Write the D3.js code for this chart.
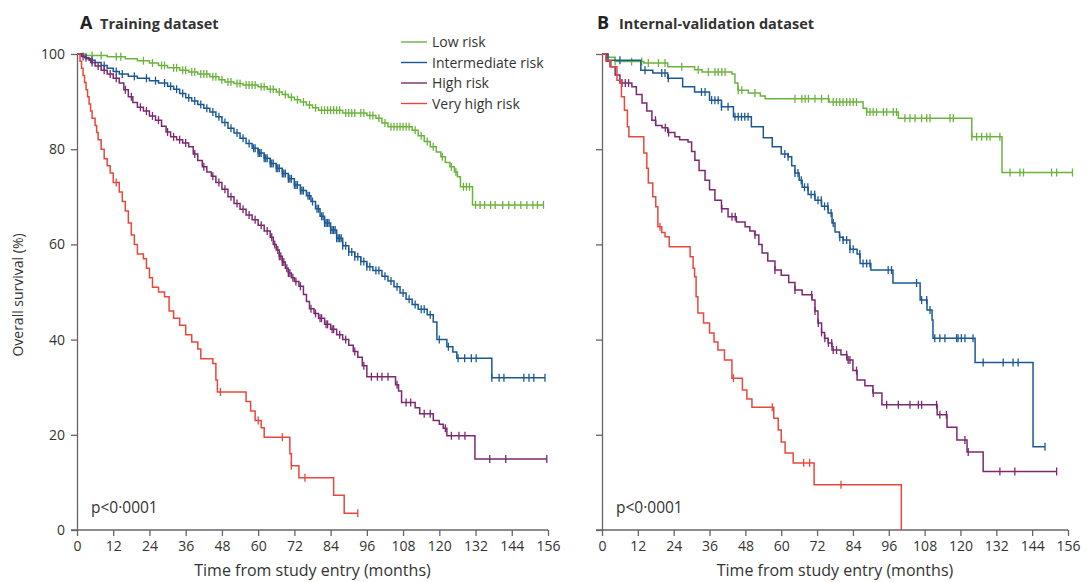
<!DOCTYPE html>
<html>
<head>
<meta charset="utf-8">
<script src="https://cdn.jsdelivr.net/npm/d3@7"></script>
<style>
  body { margin: 0; background: #fff; }
  svg text { font-family: "Open Sans", "Noto Sans", sans-serif; fill: #333; }
</style>
</head>
<body>
<svg id="chart" width="1089" height="582"></svg>
<script>

// Axis ticks
var xTicks = [0, 12, 24, 36, 48, 60, 72, 84, 96, 108, 120, 132, 144, 156];
var yTicks = [0, 20, 40, 60, 80, 100];

var groups = ["Low risk", "Intermediate risk", "High risk", "Very high risk"];

// Training dataset: [month, survival %] step points, last follow-up, censor times
var trainLow = [[0,100],[3,99.7],[10,99.4],[16,99],[20,98.6],[24,98.1],[27,97.6],[30,97.1],[34,96.6],[37,96.2],[40,95.8],[44,95.2],[47,94.6],[49,94.1],[52,93.8],[55,93.5],[60,93.1],[63,92.6],[66,92],[68,91.5],[70,90.9],[72,90.4],[74,89.9],[76,89.3],[78,88.7],[80,88.2],[88,87.6],[96,87.1],[99,86.5],[101,85.5],[103,84.7],[111,84],[113,82.8],[115,81.6],[117,80.5],[119,79.4],[120.5,78.4],[122,77.2],[123.5,76.3],[125,75.2],[126,74.2],[127,72.1],[131,68.3]];
var trainLowEnd = 154.5;
var trainLowCens = [5,8,13,14.5,22,25,28,29,32,33,35,36,38,39,41,42,43,45,46,48,50,51,53,54,56,57,58,59,61,62,64,65,67,69,71,73,75,77,79,81,82,83,84,85,86,87,89,90,91,92,94,95,97,98,100,102,104,105,106,107,108,109,110,112,114,116,118,121,124,125.5,128,129,130,132,133.5,135,137,138.5,141,143,145,147,149,151,152.5,154.5];

var trainInt = [[0,100],[1.5,99.6],[2.5,99.2],[4,98.7],[6,98.2],[8,97.6],[10,97],[12,96.3],[14,95.8],[17,95.3],[20,94.9],[24,94.4],[27,93.9],[30,93.2],[32,92.6],[34,91.7],[36,90.8],[38,90.1],[40,89.4],[42,88.6],[44,87.8],[46,86.8],[48,85.6],[50,84.4],[52,83.4],[54,82.3],[56,81.2],[58,80.2],[60,79.2],[62,78.1],[64,77],[66,76],[68,74.9],[70,73.8],[72,72.5],[74,71.3],[76,70.2],[77.5,69],[79,67.5],[80.5,65.9],[82,64.5],[84,63],[86,61.3],[88,59.7],[90,58.4],[92,57.4],[94,56.4],[96,55.3],[98,54.5],[101,53.3],[103,52.3],[105,51.1],[107,49.8],[109,48.5],[111,47.4],[113,46.4],[116,45.2],[118,43.7],[119.2,40],[122.5,38.5],[124.5,37.4],[125.8,36.1],[137.4,32]];
var trainIntEnd = 155;
var trainIntCens = [3,5,9,13,15,19,23,26,29,31,33,35,37,39,41,43,45,47,49,51,53,55,57,58.5,59,60,60.5,61,62,62.5,63,64,64.5,65,66,66.5,67,68,68.5,69,70,70.5,71,72,72.5,73,74,74.5,75,76.5,77,78,79.5,80,81,81.5,82,82.5,83,83.5,84,84.5,85,85.5,86,86.5,87,87.5,88,89,90,91,92,93,94,95,96,97,99,100,102,104,106,108,110,112,114,115,117,120,123,126.2,128.4,130.6,132.2,137.4,139.8,141.4,148,149.7,151.3,155];

var trainHigh = [[0,100],[1.5,99.5],[3,99],[4.5,98.2],[6,97.5],[8,96.6],[10,95.8],[12,94.9],[14,93.9],[15.5,92.5],[17,91],[18.5,89.8],[20,88.8],[22,88],[24,87],[26,86.1],[28,84.8],[29.5,83.6],[31,82.6],[33,82],[35,81.3],[37,80.5],[38.5,79],[40,77.6],[41.5,76.3],[43,75.2],[44.5,74.3],[46,73],[48,71.6],[50,70],[52,68.6],[54,67.4],[56,66.2],[58,65.2],[60,64],[62,62.8],[64,61.5],[65,60],[66,58.8],[67,57.5],[68,56.3],[69,55],[70,54],[71,53],[72,52.2],[73.5,51.2],[75,49.5],[76,48],[77,46.5],[78.5,45.5],[80,44.5],[82,43.2],[84,42.2],[86,41],[88,40],[90,38.8],[91.5,37.5],[93,36.3],[94.5,34.5],[96,32.2],[105.5,30.5],[106.5,29.2],[107.5,26.8],[112,25.7],[113.5,24.4],[118,23],[120,22.2],[121.3,21.4],[122.5,19.8],[131.8,14.9]];
var trainHighEnd = 155.6;
var trainHighCens = [2,5,7,9,11,13,16,18,21,23,25,27,30,32,34,36,39,42,45,47,49,51,53,55,57,59,61,63,64.5,65.5,66.5,67,67.5,68,68.5,69.5,70,70.5,71.5,72.5,74,77.5,79,80.5,81,82.5,83,84.5,85,87,89,92,95,97.5,99.5,101,103,106,109,110.5,115,117,122,124,126.5,128.5,136.7,142,155.6];

var trainVeryHigh = [[0,100],[1,98.5],[1.5,97],[2,95.5],[2.5,94],[3,92.5],[3.5,91],[4,89.5],[4.5,88],[5,86.5],[6,85],[6.5,83.5],[7,82],[8,80],[9,78],[10,76.5],[11,75],[12,73],[14,71],[15,69],[16,67],[17,64.5],[18,62],[19,60],[20,58],[22,57],[23,55],[24,53],[25,51],[27,50],[29,49],[30.5,46],[32,44.5],[34,43],[36,41],[38,39.5],[40,38],[41,36],[45,35],[46,31.5],[46.5,29],[56,27],[57.5,25],[59,23],[61,21.5],[62,19.5],[70.5,16],[71,13.5],[73.5,11],[85,7.3],[88.5,3.5]];
var trainVeryHighEnd = 93;
var trainVeryHighCens = [13,47.5,60,68,71,75.5,93];

// Internal-validation dataset
var valLow = [[0,100],[2,99.3],[4.4,98.4],[14,98.1],[22,97.3],[31,96.7],[33.5,96.2],[43.5,95.8],[44.5,93.9],[45.5,92.4],[49,91.8],[53,91.2],[54.6,90.6],[76,89.9],[87.4,88.6],[88.6,87.8],[99.2,86.5],[123.8,82.6],[133.9,75.1]];
var valLowEnd = 157.5;
var valLowCens = [4.4,9.9,13.3,15.5,18.9,21.1,26.7,32.2,35.6,37.8,38.9,40.1,41.2,45.6,46.8,51.2,64.6,66.9,68,69.1,71.3,73.5,75.8,77.4,78.5,79.6,80.7,81.9,83,84.1,85.2,88.6,89.7,90.8,91.9,94.2,95.3,97.5,98.6,101.4,103.1,104.8,107,108.7,109.8,116.5,117.6,123.8,125.4,127.1,128.8,129.9,133.2,136.6,139.9,141.1,150.5,152.2,157.5];

var valInt = [[0,100],[2,98.7],[13,96.6],[17,96],[22,94.9],[27,93.1],[31,92],[36,90.3],[40,88.9],[44,86.8],[50,84.7],[54,82.4],[57,80.5],[60,79],[62.3,78.4],[63.5,76.5],[64.6,75],[66,73.5],[67,72],[69,70.5],[71.3,69.3],[73.5,68],[75.7,66.6],[77,64.5],[78,62.6],[79.5,61.5],[80.7,60.9],[83,59],[85.4,58],[86.4,56],[90,54.6],[97.4,51.9],[106.5,48.3],[108.8,46.2],[110.5,44.1],[110.8,40.3],[124.9,35.2],[144.3,17.5]];
var valIntEnd = 148.3;
var valIntCens = [6,14.4,20,21.1,22.2,33.3,34.5,36.7,37.8,38.9,40,42.2,44.5,45.6,46.7,47.8,48.9,61.2,62.3,64.6,65.6,66.7,67.8,68.9,70,71.2,72.3,73.4,74.5,75.6,76.7,77.4,79.6,80.7,81.9,83,84.1,86.3,87.4,88.6,89.7,95.8,96.9,105.3,107,108.7,109.8,111.4,113.1,114.8,118.7,119.2,120.3,121.5,124.2,127.6,134.3,137.6,139.3,148.3];

var valHigh = [[0,100],[1.5,98.5],[2.7,97.3],[4.4,95.6],[6,93.9],[10,93.1],[11.5,91.5],[13.4,89.7],[15,88],[16.7,86.1],[18,85],[20.1,84.5],[22,83.5],[24.4,82.6],[26,82],[28.8,81.5],[30,79.5],[31.1,77.7],[32.5,75.5],[34.5,73.5],[36,71.5],[37.8,69.3],[40,67.5],[42.2,65.8],[45,64.7],[47.9,63.7],[49.5,62.8],[51.2,62],[52.5,60],[53.6,58.2],[55.5,56.5],[57.9,54.6],[60,53.5],[62.5,52],[64.6,50.4],[67,49.4],[70.3,48.3],[71.3,46],[72.3,43.5],[73.5,41.5],[74.5,40.3],[75.7,39.3],[77,37.8],[80,36.8],[82,35.7],[84,33.5],[85.4,31.5],[88,30.3],[90.7,28.8],[93.7,26.3],[112.2,24.2],[115.5,21.6],[118.8,18.9],[122.2,16.4],[127.6,12.3]];
var valHighEnd = 152.3;
var valHighCens = [6.7,7.8,8.9,17.9,21.2,22.3,40.1,43.5,44.6,51.2,57.9,64.6,70.2,71.3,72.4,73.5,74.6,75.8,76.9,77.4,78.5,81.9,82.4,83,85.2,90.8,95.3,99.2,103.1,105.9,107,112,113.1,115.3,121.5,122.6,133.2,138.2,152.2];

var valVeryHigh = [[0,100],[1.3,98.6],[3,97.3],[5,94.5],[6.5,91],[7.5,88.2],[8.5,84.7],[9,82.6],[14,79.2],[15,76],[15.5,72.9],[17,70],[18,67.9],[18.7,63.7],[20,62.5],[21.1,61.6],[22.5,59.5],[29.5,57.4],[30.5,55],[31,53.2],[31.5,49],[32.1,45.6],[34,43.5],[36,41.4],[37.5,39.5],[38.8,37.8],[41,35.7],[43.5,31.9],[47,29.4],[48.5,27.5],[50.2,25.8],[57.5,23.5],[59,21],[60,18.5],[61.3,16.2],[64,14.1],[71,9.5],[100.2,0]];
var valVeryHighEnd = 100.2;
var valVeryHighCens = [19.4,44,57,67.5,69.5,80];

var colours = ["#6cb33e", "#1c5894", "#7b2a70", "#e8483b"];

var svg = d3.select("#chart");

function makePanel(opts) {

    var x = d3.scaleLinear().domain([0, 156]).range([opts.x0, opts.x1]);
    var y = d3.scaleLinear().domain([0, 100]).range([530, 54]);

    var g = svg.append("g");

    // Panel letter and title
    g.append("text")
        .attr("x", opts.x0 + opts.letterDx)
        .attr("y", 29)
        .style("font-size", "18px")
        .style("font-weight", "bold")
        .style("fill", "#222")
        .text(opts.letter);

    g.append("text")
        .attr("x", opts.x0 + opts.letterDx + opts.titleDx)
        .attr("y", 29)
        .style("font-size", "14.5px")
        .style("font-weight", "bold")
        .style("fill", "#333")
        .text(opts.title);

    // Axes
    var xAxis = d3.axisBottom(x).tickValues(xTicks).tickSize(6).tickPadding(5).tickSizeOuter(0);
    var gx = g.append("g")
        .attr("transform", "translate(0,530)")
        .call(xAxis);
    gx.select(".domain").attr("d", "M" + (opts.x0 - 6) + ",0H" + opts.x1);

    var yAxis = d3.axisLeft(y).tickValues(yTicks).tickSize(6).tickPadding(6).tickSizeOuter(0);
    if (!opts.yLabels) yAxis.tickFormat("");
    g.append("g")
        .attr("transform", "translate(" + opts.x0 + ",0)")
        .call(yAxis);

    g.selectAll(".domain, .tick line")
        .attr("stroke", "#666")
        .attr("stroke-width", 1.3);
    g.selectAll(".tick text")
        .style("font-size", "14px")
        .style("fill", "#333");

    g.append("text")
        .attr("x", (opts.x0 + opts.x1) / 2)
        .attr("y", 576)
        .attr("text-anchor", "middle")
        .style("font-size", "16px")
        .text("Time from study entry (months)");

    g.append("text")
        .attr("x", opts.x0 + 14)
        .attr("y", 513)
        .style("font-size", "15.5px")
        .text("p<0\u00b70001");

    var line = d3.line()
        .curve(d3.curveStepAfter)
        .x(function(d) { return x(d[0]); })
        .y(function(d) { return y(d[1]); });

    // Draw each survival curve with its censor marks
    opts.series.forEach(function(s, i) {
        var pts = s.steps.concat([[s.end, s.steps[s.steps.length - 1][1]]]);

        g.append("path")
            .datum(pts)
            .attr("d", line)
            .attr("fill", "none")
            .attr("stroke", colours[i])
            .attr("stroke-width", 1.5);

        g.selectAll(".cens" + i)
            .data(s.cens)
            .enter()
            .append("line")
            .attr("class", "cens" + i)
            .attr("x1", function(t) { return x(t); })
            .attr("x2", function(t) { return x(t); })
            .attr("y1", function(t) { return y(survAt(s.steps, t)) - 4; })
            .attr("y2", function(t) { return y(survAt(s.steps, t)) + 4; })
            .attr("stroke", colours[i])
            .attr("stroke-width", 1.3);
    });
}

// Survival value of a step curve at time t
function survAt(steps, t) {
    var v = steps[0][1];
    for (var i = 0; i < steps.length; i++) {
        if (steps[i][0] <= t) v = steps[i][1];
    }
    return v;
}

makePanel({
    x0: 77, x1: 548, letter: "A", letterDx: 3, titleDx: 20, title: "Training dataset", yLabels: true,
    series: [
        {steps: trainLow, end: trainLowEnd, cens: trainLowCens},
        {steps: trainInt, end: trainIntEnd, cens: trainIntCens},
        {steps: trainHigh, end: trainHighEnd, cens: trainHighCens},
        {steps: trainVeryHigh, end: trainVeryHighEnd, cens: trainVeryHighCens}
    ]
});

makePanel({
    x0: 602, x1: 1068, letter: "B", letterDx: -5, titleDx: 22, title: "Internal-validation dataset", yLabels: false,
    series: [
        {steps: valLow, end: valLowEnd, cens: valLowCens},
        {steps: valInt, end: valIntEnd, cens: valIntCens},
        {steps: valHigh, end: valHighEnd, cens: valHighCens},
        {steps: valVeryHigh, end: valVeryHighEnd, cens: valVeryHighCens}
    ]
});

// Y axis title
svg.append("text")
    .attr("transform", "translate(23,295) rotate(-90)")
    .attr("text-anchor", "middle")
    .style("font-size", "14px")
    .text("Overall survival (%)");

// Legend
var legend = svg.append("g").attr("transform", "translate(401,42)");

groups.forEach(function(name, i) {
    legend.append("line")
        .attr("x1", 0).attr("x2", 26)
        .attr("y1", i * 20.5).attr("y2", i * 20.5)
        .attr("stroke", colours[i])
        .attr("stroke-width", 1.4);
    legend.append("text")
        .attr("x", 31)
        .attr("y", i * 20.5 + 5)
        .style("font-size", "14px")
        .text(name);
});

</script>
</body>
</html>
